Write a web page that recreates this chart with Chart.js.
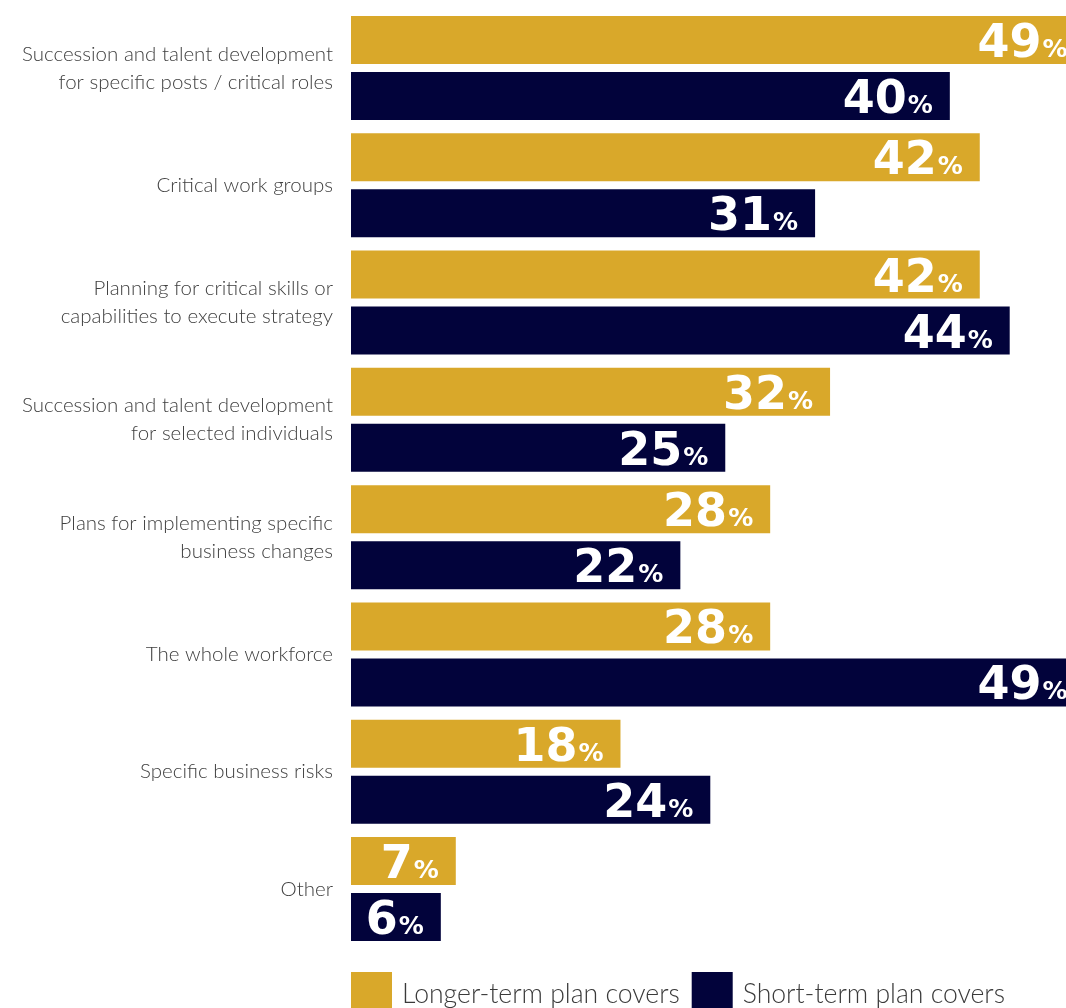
<!DOCTYPE html>
<html>
<head>
<meta charset="utf-8">
<script src="https://cdn.jsdelivr.net/npm/chart.js@4.4.1/dist/chart.umd.min.js"></script>
<style>
  html, body { margin: 0; padding: 0; background: #ffffff; }
  #wrap { position: relative; width: 1066px; height: 1008px; overflow: hidden; }
</style>
</head>
<body>
<div id="wrap"><canvas id="chart" width="1066" height="1008"></canvas></div>
<script>
// Plan coverage areas (one row per category)
const categories = [
  ["Succession and talent development", "for specific posts / critical roles"],
  ["Critical work groups"],
  ["Planning for critical skills or", "capabilities to execute strategy"],
  ["Succession and talent development", "for selected individuals"],
  ["Plans for implementing specific", "business changes"],
  ["The whole workforce"],
  ["Specific business risks"],
  ["Other"]
];
const seriesNames = ["Longer-term plan covers", "Short-term plan covers"];
const longerTerm = [49, 42, 42, 32, 28, 28, 18, 7];
const shortTerm  = [40, 31, 44, 25, 22, 49, 24, 6];

const GOLD = "#D9A82A";
const NAVY = "#02033B";

// Value labels: big number followed by a smaller percent sign, right-aligned inside the bar
const valueLabels = {
  id: "valueLabels",
  afterDatasetsDraw(chart) {
    const ctx = chart.ctx;
    ctx.save();
    ctx.fillStyle = "#ffffff";
    ctx.textBaseline = "alphabetic";
    chart.data.datasets.forEach((ds, di) => {
      const meta = chart.getDatasetMeta(di);
      meta.data.forEach((bar, i) => {
        const v = ds.data[i];
        const right = bar.x - 17;
        const base = bar.y + 17;
        ctx.font = "bold 25px 'DejaVu Sans'";
        const pw = ctx.measureText("%").width;
        ctx.fillText("%", right - pw, base);
        ctx.font = "bold 46px 'DejaVu Sans'";
        const num = String(v);
        const nw = ctx.measureText(num).width;
        ctx.fillText(num, right - pw - nw - 1, base);
      });
    });
    ctx.restore();
  }
};

// Legend drawn along the bottom, starting at the plot's left edge
const bottomLegend = {
  id: "bottomLegend",
  afterDraw(chart) {
    const ctx = chart.ctx;
    const left = chart.chartArea.left;
    ctx.save();
    ctx.font = "300 26.6px Lato";
    ctx.textBaseline = "alphabetic";
    let x = left;
    chart.data.datasets.forEach((ds) => {
      ctx.fillStyle = ds.backgroundColor;
      ctx.fillRect(x, 972, 41, 40);
      ctx.fillStyle = "#3a3a3a";
      ctx.fillText(ds.label, x + 51, 1003);
      x += 51 + ctx.measureText(ds.label).width + 12;
    });
    ctx.restore();
  }
};

new Chart(document.getElementById("chart"), {
  type: "bar",
  data: {
    labels: categories,
    datasets: [
      { label: seriesNames[0], data: longerTerm, backgroundColor: GOLD },
      { label: seriesNames[1], data: shortTerm, backgroundColor: NAVY }
    ]
  },
  options: {
    indexAxis: "y",
    responsive: false,
    animation: false,
    devicePixelRatio: 1,
    layout: { padding: { top: 9.4, bottom: 60.4, left: 0, right: 0 } },
    datasets: { bar: { categoryPercentage: 0.955, barPercentage: 0.857 } },
    plugins: { legend: { display: false }, tooltip: { enabled: false } },
    scales: {
      x: { display: false, min: 0, max: 47.76 },
      y: {
        grid: { display: false, drawTicks: false },
        border: { display: false },
        afterFit(scale) {
          scale.width = 351;
          scale.paddingTop = 0;
          scale.paddingBottom = 0;
        },
        ticks: {
          color: "#404040",
          font: { family: "Lato", weight: "300", size: 20.5, lineHeight: 1.366 },
          padding: 18
        }
      }
    }
  },
  plugins: [valueLabels, bottomLegend]
});
</script>
</body>
</html>
